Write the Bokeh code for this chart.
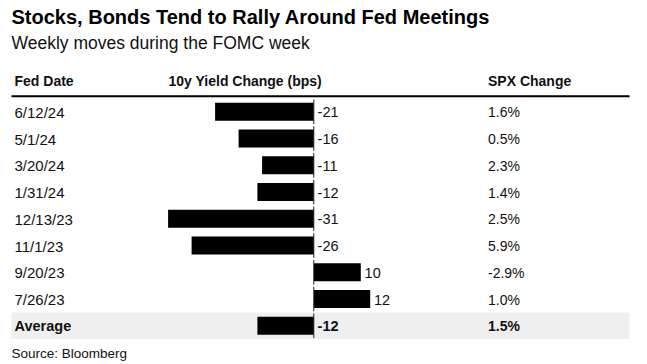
from bokeh.plotting import figure
from bokeh.models import Range1d
from bokeh.core.properties import value
from bokeh.embed import file_html
from bokeh.resources import INLINE

# ---- data ----
dates = ["6/12/24", "5/1/24", "3/20/24", "1/31/24", "12/13/23", "11/1/23", "9/20/23", "7/26/23", "Average"]
yield_change = [-21, -16, -11, -12, -31, -26, 10, 12, -12]
spx_change = ["1.6%", "0.5%", "2.3%", "1.4%", "2.5%", "5.9%", "-2.9%", "1.0%", "1.5%"]
headers = ["Fed Date", "10y Yield Change (bps)", "SPX Change"]
title = "Stocks, Bonds Tend to Rally Around Fed Meetings"
subtitle = "Weekly moves during the FOMC week"
source = "Source: Bloomberg"

W, H = 647, 364
SCALE = 4.7          # px per bp
ZERO_PX = 313.3      # px of zero
x0 = -ZERO_PX / SCALE

def fx(px):
    return x0 + px / SCALE

FONT = value("Liberation Sans")
TXT = "#111111"

p = figure(width=W, height=H, output_backend="svg", toolbar_location=None,
           x_range=Range1d(x0, x0 + W / SCALE), y_range=Range1d(H, 0),
           min_border=0, outline_line_color=None)
p.axis.visible = False
p.grid.visible = False
p.background_fill_color = "white"
p.border_fill_color = "white"

pitch = 26.75
row_y = [111.3 + i * pitch for i in range(len(dates))]
n = len(dates)

# average band
p.hbar(y=[row_y[-1]], left=[fx(11)], right=[fx(629)], height=26.5,
       fill_color="#efefef", line_color=None)

# header line
p.segment(x0=[fx(11)], x1=[fx(629)], y0=[95.7], y1=[95.7],
          line_color="black", line_width=2)

# bars
left = [min(v, 0) for v in yield_change]
right = [max(v, 0) for v in yield_change]
p.hbar(y=row_y, left=left, right=right, height=18, fill_color="black", line_color=None)

# zero line segments
p.segment(x0=[0] * n, x1=[0] * n, y0=[y - 12.3 for y in row_y], y1=[y + 12.3 for y in row_y],
          line_color="#222222", line_width=1)

# value labels
lab_x = [max(v, 0) + 3.8 / SCALE for v in yield_change]
lab_t = [str(v) for v in yield_change]
p.text(x=lab_x[:-1], y=[y + 0.5 for y in row_y[:-1]], text=lab_t[:-1], text_font=FONT,
       text_font_size="14.5px", text_baseline="middle", text_color=TXT)
p.text(x=lab_x[-1:], y=[row_y[-1] + 0.5], text=lab_t[-1:], text_font=FONT,
       text_font_size="14.5px", text_font_style="bold", text_baseline="middle", text_color=TXT)

# dates
p.text(x=[fx(14)] * (n - 1), y=[y + 0.5 for y in row_y[:-1]], text=dates[:-1], text_font=FONT,
       text_font_size="15px", text_baseline="middle", text_color=TXT)
p.text(x=[fx(14)], y=[row_y[-1] + 0.5], text=dates[-1:], text_font=FONT,
       text_font_size="14.5px", text_font_style="bold", text_baseline="middle", text_color=TXT)

# spx
p.text(x=[fx(487.5)] * (n - 1), y=[y + 0.5 for y in row_y[:-1]], text=spx_change[:-1], text_font=FONT,
       text_font_size="14px", text_baseline="middle", text_color=TXT)
p.text(x=[fx(487.5)], y=[row_y[-1] + 0.5], text=spx_change[-1:], text_font=FONT,
       text_font_size="14px", text_font_style="bold", text_baseline="middle", text_color=TXT)

# headers
p.text(x=[fx(14), fx(168), fx(487.5)], y=[80.7] * 3, text=headers, text_font=FONT,
       text_font_size="14px", text_font_style="bold", text_baseline="middle", text_color=TXT)

# title, subtitle, source
p.text(x=[fx(11)], y=[16.9], text=[title], text_font=FONT, text_font_size="20px",
       text_font_style="bold", text_baseline="middle", text_color="black")
p.text(x=[fx(11)], y=[42], text=[subtitle], text_font=FONT, text_font_size="17.5px",
       text_baseline="middle", text_color=TXT)
p.text(x=[fx(11)], y=[353], text=[source], text_font=FONT, text_font_size="13.5px",
       text_baseline="middle", text_color=TXT)

open("out.html", "w").write(file_html(p, INLINE))
